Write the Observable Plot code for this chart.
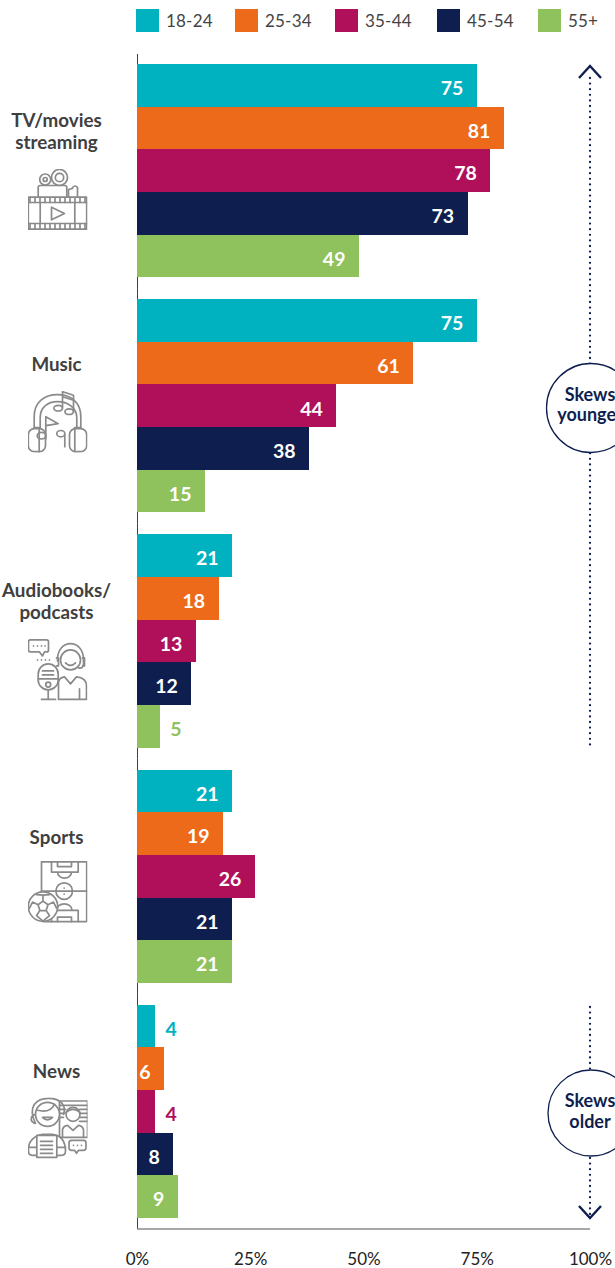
<!DOCTYPE html>
<html>
<head>
<meta charset="utf-8">
<script src="https://cdn.jsdelivr.net/npm/d3@7"></script>
<script src="https://cdn.jsdelivr.net/npm/@observablehq/plot@0.6"></script>
<style>
html,body{margin:0;padding:0;background:#fff;overflow:hidden;width:615px;height:1268px}
#legend{position:relative;height:54px;font-family:Lato,sans-serif;font-size:17px;color:#444;letter-spacing:.2px}
#legend .item{position:absolute;top:9px;display:flex;align-items:center;height:23px}
#legend .sw{width:23px;height:23px;margin-right:7px}
svg{display:block}
</style>
</head>
<body>
<div id="legend"></div>
<div id="chart"></div>
<script>
const categories = ["TV/movies\nstreaming", "Music", "Audiobooks/\npodcasts", "Sports", "News"];
const ages = ["18-24", "25-34", "35-44", "45-54", "55+"];
const colors = ["#00b2bf", "#ee6a1b", "#b0105a", "#0e1f4f", "#8fc15c"];
const tvValues = [75, 81, 78, 73, 49];
const musicValues = [75, 61, 44, 38, 15];
const audioValues = [21, 18, 13, 12, 5];
const sportsValues = [21, 19, 26, 21, 21];
const newsValues = [4, 6, 4, 8, 9];
const xTicks = [0, 25, 50, 75, 100];
const series = [tvValues, musicValues, audioValues, sportsValues, newsValues];
const labelOffsets = [46, 55, 46, 58, 57];
const iconOffsets = [135, 122, 135, 122, 123];
const legendLefts = [136, 235, 335, 437, 538];

const rows = categories.flatMap((cat, c) => ages.map((age, a) => ({cat, age, value: series[c][a]})));

const svgWrap = inner => "data:image/svg+xml," + encodeURIComponent(
  `<svg xmlns="http://www.w3.org/2000/svg" viewBox="0 0 60 62" width="60" height="62" fill="none" stroke="#8a8a8a" stroke-width="1.7" stroke-linejoin="round" stroke-linecap="round">${inner}</svg>`);

const ticksAlong = (y1, y2) => d3.range(2.5, 60, 5).map(x => `<path d="M${x} ${y1}V${y2}"/>`).join("");
const icons = [
  svgWrap(`<circle cx="17.7" cy="11" r="5.5"/><circle cx="17.7" cy="11" r="2"/><circle cx="32" cy="9" r="8"/><circle cx="32" cy="9" r="4.2"/>
    <path d="M10.7 28.7V19q0-2 2-2h24.6q2 0 2 2v9.7"/><path d="M41 28.7V21l4-1V19q3-3 5 0v9.7"/>
    <rect x=".8" y="28.7" width="58.4" height="32"/><path d="M.8 34H59.2M.8 55H59.2M12.7 34V55M47.3 34V55"/>${ticksAlong(29,34)}${ticksAlong(55,60.5)}
    <path d="M24 38.7V51.3L37 45Z"/>`),
  svgWrap(`<path d="M6.7 37V26C6.7 11 17 4 30 4s23.300 7 23.300 22V37"/><path d="M12.700 37V27C12.700 17 20 11 30 11s19.300 6 19.300 16V37"/>
    <path d="M6.700 37h6M47.300 37h6"/>
    <rect x=".8" y="38" width="17.200" height="23" rx="6"/><path d="M11.700 38V61"/><rect x="42" y="38" width="17.200" height="23" rx="6"/><path d="M47.300 38V61"/>
    <ellipse cx="30.700" cy="17.500" rx="4.300" ry="2.800"/><ellipse cx="41.700" cy="21" rx="4.300" ry="2.800"/><path d="M35 17V1L46 4.500V21M35 6l11 3.500"/>
    <path d="M18.300 48V26L30.700 33 18.300 35"/><ellipse cx="14" cy="45" rx="4.300" ry="3.300"/>
    <path d="M37.300 44V56"/><ellipse cx="33.300" cy="43" rx="4" ry="3.200"/>`),
  svgWrap(`<path d="M3 1h16q2 0 2 2v8q0 2-2 2h-2l-2 4-3-4H3q-2 0-2-2V3q0-2 2-2Z"/><path d="M6 7h0M10 7h0M14 7h0M17.500 7h0M10 21h0M14 21h0M18 21h0M22 21h0"/>
    <rect x="10.700" y="25" width="20" height="26" rx="10"/><path d="M15 32h11M15 36h11M10.700 40H30.700"/><circle cx="20.700" cy="45.700" r="2.500"/><path d="M20.700 51V60.500M14 60.500H28"/>
    <circle cx="43" cy="21" r="10"/><path d="M30 22C29 -1 57 -1 56 22V25q0 5-5 4M29 19h2V27H29M55 19h2V27H55"/>
    <path d="M38 24q5 5 10 0"/><path d="M31 60.500V44q0-5 6-6l6 7 6-7q10 1 10 9V60.500H31ZM52 50V60.500"/>`),
  svgWrap(`<path d="M14 46V.8H59.200V60.500H16"/><path d="M14 30H59.200M24 .8V11H50.700V.8M30 .8V5.500H44V.8M30 11a7 6 0 0 0 14 0"/><circle cx="36.700" cy="30" r="8.300"/><path d="M36.700 27h0M36.700 33h0"/>
    <path d="M24 60.500V49.300H50.700V60.500M30 60.500V56H44V60.500M29 49a7.500 6 0 0 1 15.500 0"/>
    <circle cx="15.500" cy="45.500" r="14.700" fill="#fff"/><path d="M15.500 40l5 3.600-1.900 5.900h-6.200l-1.900-5.900ZM15.500 40V34M20.500 43.600L26 41M18.600 49.500L22 54.500M12.400 49.500L9 54.500M10.500 43.600L5 41M9 33.500L15.500 34 22 33.500M26 41L29 47M22 54.500L15.500 60M9 54.500L15.500 60M5 41L2 47"/>`),
  svgWrap(`<rect x="32" y="3.700" width="28" height="36.300"/><path d="M32 8H60M52 12H60M52 16H60M52 20H60M52 24H60M32 12H38M32 16H37M32 20H36"/><circle cx="45.500" cy="17" r="7"/><path d="M38.500 15q7-6 14 0M35 40V33q0-4 5-5l5.500 5 5.500-5q5 1 5 5V40"/>
    <path d="M8 26C0 10 8 1 21 1s18 8 15 16M8 17C3 18 2 24 7 26"/><circle cx="20" cy="17" r="12" fill="#fff"/><path d="M10 13c8 2 14 0 17-6M15 20q5 5 10 0Z"/>
    <path d="M1 54C0 43 8 38 15 37h10c8 1 13 6 13 17q0 4-4 4H5q-4 0-4-4Z" fill="#fff"/><rect x="9.300" y="38" width="20" height="22" fill="#fff"/><path d="M13 44H25M13 48H25M13 52H25M13 56H25M1 50H9M30 50H38"/>
    <path d="M44 43h12q2.500 0 2.500 2.500v5q0 2.500-2.500 2.500h-5l-2 3-2-3h-3q-2.500 0-2.500-2.500v-5q0-2.500 2.500-2.500ZM46 48h0M50 48h0M54 48h0"/>`)
];

const legendBox = document.getElementById("legend");
ages.forEach((age, i) => {
  const it = document.createElement("div");
  it.className = "item";
  it.style.left = legendLefts[i] + "px";
  it.innerHTML = `<span class="sw" style="background:${colors[i]}"></span><span>${age}</span>`;
  legendBox.appendChild(it);
});

const sans = "Lato, sans-serif";
const plot = Plot.plot({
  width: 615,
  height: 1214,
  marginLeft: 137,
  marginRight: 25,
  marginTop: 10,
  marginBottom: 50,
  style: {background: "#fff", fontFamily: sans},
  x: {domain: [0, 100], axis: null},
  y: {domain: ages, axis: null, padding: 0, round: false},
  fy: {domain: categories, axis: null, paddingInner: 0.0935, paddingOuter: 0, round: false},
  color: {domain: ages, range: colors},
  marks: [
    Plot.ruleX([0], {stroke: "#404040", strokeWidth: 1, insetTop: -11, insetBottom: -11}),
    Plot.barX(rows, {x: "value", y: "age", fy: "cat", fill: "age", shapeRendering: "crispEdges"}),
    Plot.text(rows.filter(d => d.value > 5), {
      x: "value", y: "age", fy: "cat", text: d => String(d.value),
      textAnchor: "end", dx: -14, dy: 3, fill: "#fff", fontSize: 19.5, fontWeight: 700
    }),
    Plot.text(rows.filter(d => d.value <= 5), {
      x: "value", y: "age", fy: "cat", text: d => String(d.value),
      textAnchor: "start", dx: 10, dy: 3, fill: "age", fontSize: 19.5, fontWeight: 700
    }),
    ...categories.map((cat, i) => Plot.text([cat], {
      fy: d => d, text: d => d, frameAnchor: "top-left", textAnchor: "middle",
      lineAnchor: "top", dx: -81, dy: labelOffsets[i], lineHeight: 1.2,
      fill: "#404040", fontSize: 18.8, fontWeight: 700
    })),
    ...categories.map((cat, i) => Plot.image([cat], {
      fy: d => d, src: icons[i], frameAnchor: "top-left", dx: -80, dy: iconOffsets[i], width: 60, height: 62
    })),
    Plot.axisX({
      ticks: xTicks, tickFormat: d => d + "%", tickSize: 0, tickPadding: 34,
      anchor: "bottom", fontSize: 17, fill: "#222", label: null
    })
  ]
});
document.getElementById("chart").appendChild(plot);

const X = plot.scale("x").apply;
const svgTop = 54;
const navy = "#0e1f4f";
const over = d3.select(plot).append("g").attr("fill", "none");
over.append("line").attr("x1", X(0)).attr("x2", X(100)).attr("y1", 1229 - svgTop).attr("y2", 1229 - svgTop)
  .attr("stroke", "#8a8a8a").attr("stroke-width", 1.4);
const dotted = (y1, y2) => over.append("line").attr("x1", X(100)).attr("x2", X(100)).attr("y1", y1 - svgTop).attr("y2", y2 - svgTop)
  .attr("stroke", navy).attr("stroke-width", 2.3).attr("stroke-linecap", "round").attr("stroke-dasharray", "0 5.6");
const chevron = (tip, dir) => over.append("path")
  .attr("d", `M${X(100) - 11} ${tip - svgTop + dir * 12}L${X(100)} ${tip - svgTop}L${X(100) + 11} ${tip - svgTop + dir * 12}`)
  .attr("stroke", navy).attr("stroke-width", 2.4);
const bubble = (cy, r, lines, y1, y2) => {
  over.append("circle").attr("cx", X(100) + 1).attr("cy", cy - svgTop).attr("r", r).attr("fill", "#fff").attr("stroke", navy).attr("stroke-width", 1.3);
  lines.forEach((t, i) => over.append("text").attr("x", X(100)).attr("y", cy - svgTop + (i ? y2 : y1)).attr("text-anchor", "middle")
    .attr("fill", navy).attr("font-family", sans).attr("font-size", 18).attr("font-weight", 700).text(t));
};
dotted(78, 747);
chevron(66, 1);
bubble(408, 44.5, ["Skews", "younger"], -7, 13);
dotted(1007, 1070);
dotted(1158, 1216);
chevron(1218, -1);
bubble(1113, 43, ["Skews", "older"], -6, 15);
</script>
</body>
</html>
